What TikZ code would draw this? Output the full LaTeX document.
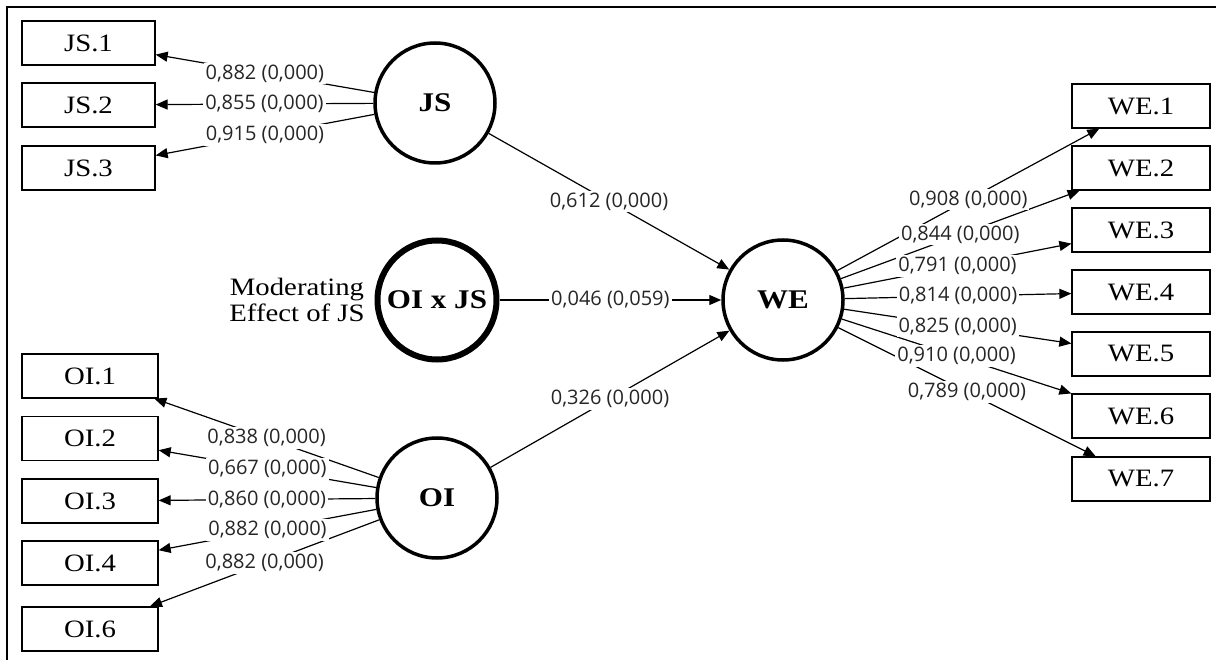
\documentclass[tikz,border=0pt]{standalone}
\usepackage{fontspec}
\setmainfont{Liberation Serif}[FakeStretch=1.15]
\newfontfamily\lblfont{Open Sans}
\usetikzlibrary{arrows.meta}
\begin{document}
\begin{tikzpicture}[x=1pt,y=-1pt,
  ind/.style={draw, line width=1.3pt, minimum height=44pt, inner sep=0pt, font=\fontsize{25}{27}\selectfont},
  lat/.style={circle, draw, line width=3.5pt, minimum size=120pt, inner sep=0pt, font=\bfseries\fontsize{27}{29}\selectfont},
  con/.style={line width=1.2pt, -{Triangle[length=12pt,width=10pt]}},
  lbl/.style={fill=white, inner sep=2pt, font=\lblfont\fontsize{20}{22}\selectfont, text=black!85},
]
\useasboundingbox (0,0) rectangle (1216,660);
\draw[line width=2.5pt] (7,660) -- (7,7) -- (1216,7);

% latent variables
\node[lat] (JS) at (435,103) {JS};
\node[lat, line width=6pt, minimum size=119pt] (OIJS) at (437,300) {OI x JS};
\node[lat] (OI) at (437,498) {OI};
\node[lat] (WE) at (783,300) {WE};
\node[align=center, font=\fontsize{25}{26}\selectfont, inner sep=0pt] (mod) at (297,300) {Moderating\\Effect of JS};

% indicators
\node[ind, minimum width=133pt] (js1) at (88.5,43) {JS.1};
\node[ind, minimum width=133pt] (js2) at (88.5,105) {JS.2};
\node[ind, minimum width=133pt] (js3) at (88.5,168) {JS.3};
\node[ind, minimum width=136pt] (oi1) at (90,376) {OI.1};
\node[ind, minimum width=136pt] (oi2) at (90,438.5) {OI.2};
\node[ind, minimum width=136pt] (oi3) at (90,501) {OI.3};
\node[ind, minimum width=136pt] (oi4) at (90,563) {OI.4};
\node[ind, minimum width=136pt] (oi6) at (90,629) {OI.6};
\node[ind, minimum width=138pt] (we1) at (1141,106) {WE.1};
\node[ind, minimum width=138pt] (we2) at (1141,168) {WE.2};
\node[ind, minimum width=138pt] (we3) at (1141,230) {WE.3};
\node[ind, minimum width=138pt] (we4) at (1141,292) {WE.4};
\node[ind, minimum width=138pt] (we5) at (1141,354) {WE.5};
\node[ind, minimum width=138pt] (we6) at (1141,416) {WE.6};
\node[ind, minimum width=138pt] (we7) at (1141,479) {WE.7};

% connectors
\foreach \s/\t in {JS/js1,JS/js2,JS/js3,OI/oi1,OI/oi2,OI/oi3,OI/oi4,OI/oi6,
  WE/we1,WE/we2,WE/we3,WE/we4,WE/we5,WE/we6,WE/we7,JS/WE,OIJS/WE,OI/WE}
  \draw[con] (\s) -- (\t);

% labels
\path (JS) -- (js1) node[lbl, midway] {0,882 (0,000)};
\path (JS) -- (js2) node[lbl, midway] {0,855 (0,000)};
\path (JS) -- (js3) node[lbl, midway] {0,915 (0,000)};
\path (OI) -- (oi1) node[lbl, midway] {0,838 (0,000)};
\path (OI) -- (oi2) node[lbl, midway] {0,667 (0,000)};
\path (OI) -- (oi3) node[lbl, midway] {0,860 (0,000)};
\path (OI) -- (oi4) node[lbl, midway] {0,882 (0,000)};
\path (OI) -- (oi6) node[lbl, midway] {0,882 (0,000)};
\path (WE) -- (we1) node[lbl, midway] {0,908 (0,000)};
\path (WE) -- (we2) node[lbl, midway] {0,844 (0,000)};
\path (WE) -- (we3) node[lbl, midway] {0,791 (0,000)};
\path (WE) -- (we4) node[lbl, midway] {0,814 (0,000)};
\path (WE) -- (we5) node[lbl, midway] {0,825 (0,000)};
\path (WE) -- (we6) node[lbl, midway] {0,910 (0,000)};
\path (WE) -- (we7) node[lbl, midway] {0,789 (0,000)};
\path (JS) -- (WE) node[lbl, midway] {0,612 (0,000)};
\path (OIJS) -- (WE) node[lbl, midway] {0,046 (0,059)};
\path (OI) -- (WE) node[lbl, midway] {0,326 (0,000)};
\end{tikzpicture}
\end{document}
